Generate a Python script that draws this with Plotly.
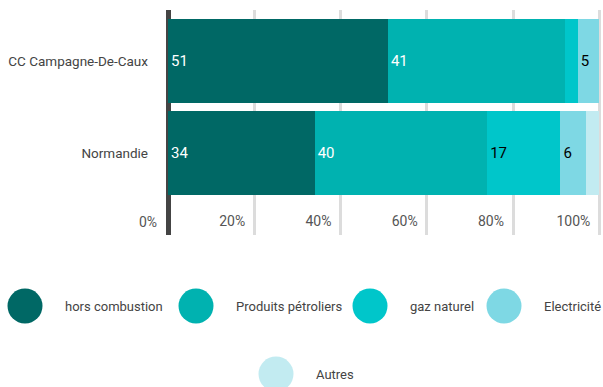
import plotly.graph_objects as go

# Energy consumption shares by source (%)
categories = ["Normandie", "CC Campagne-De-Caux"]
series_names = ["hors combustion", "Produits pétroliers", "gaz naturel", "Electricité", "Autres"]
series_colors = ["#006865", "#00b2b0", "#00c6ca", "#7ed8e4", "#c2ebf1"]
label_colors = ["white", "white", "black", "black", "black"]
values = {
    "hors combustion": [34, 51],
    "Produits pétroliers": [40, 41],
    "gaz naturel": [17, 3],
    "Electricité": [6, 5],
    "Autres": [3, 0],
}
x_ticks = [20, 40, 60, 80, 100]

FONT = "Roboto, Lato, sans-serif"
W, H = 603, 387
ML, MR, MT, MB = 160, 0, 10, 152
PX_PER_UNIT = 4.3125

fig = go.Figure()
for name, color, lc in zip(series_names, series_colors, label_colors):
    vals = values[name]
    fig.add_trace(go.Bar(
        y=categories, x=vals, name=name, orientation="h",
        marker=dict(color=color, line=dict(width=0)),
        text=[str(v) if v >= 5 else "" for v in vals],
        textposition="inside", insidetextanchor="start",
        textfont=dict(family=FONT, size=15, color=lc),
        hoverinfo="skip", showlegend=False,
    ))

plot_w = W - ML - MR
x0 = -(168 - ML) / PX_PER_UNIT
x1 = x0 + plot_w / PX_PER_UNIT

fig.update_layout(
    width=W, height=H,
    margin=dict(l=ML, r=MR, t=MT, b=MB, pad=0),
    barmode="stack", bargap=0.087,
    plot_bgcolor="white", paper_bgcolor="white",
    font=dict(family=FONT, size=14, color="#444"),
    xaxis=dict(
        range=[x0, x1], tickvals=x_ticks, ticktext=[f"{t}%" for t in x_ticks],
        showgrid=True, gridcolor="#dcdcdc", gridwidth=3,
        zeroline=True, zerolinecolor="#444", zerolinewidth=5,
        ticklabelposition="inside left", ticks="", ticklabelshift=-9,
        tickfont=dict(family=FONT, size=14, color="#555"),
        automargin=False, fixedrange=True,
    ),
    yaxis=dict(
        type="category", categoryorder="array", categoryarray=categories,
        range=[-0.891, 1.554], showgrid=False, zeroline=False, ticks="",
        ticklabelstandoff=11,
        tickfont=dict(family=FONT, size=13.5, color="#444"),
        automargin=False, fixedrange=True,
    ),
)

# "0%" sits left of the zero line, outside the plotting area
fig.add_annotation(
    text="0%", xref="x", yref="paper", x=0, y=0.06,
    xanchor="right", yanchor="middle", xshift=-9, showarrow=False,
    font=dict(family=FONT, size=14, color="#555"),
)

# Custom legend with large round swatches
legend_rows = [
    [(25, 306), (196, 306), (370, 306), (504, 306)],
    [(276, 374)],
]
legend_pos = [p for row in legend_rows for p in row]
R = 17.5


def to_paper_x(px):
    return (px - ML) / plot_w


def to_paper_y(py):
    return (H - MB - py) / (H - MT - MB)


for (cx, cy), name, color in zip(legend_pos, series_names, series_colors):
    fig.add_shape(
        type="circle", xref="paper", yref="paper",
        x0=to_paper_x(cx - R), x1=to_paper_x(cx + R),
        y0=to_paper_y(cy + R), y1=to_paper_y(cy - R),
        fillcolor=color, line=dict(width=0),
    )
    fig.add_annotation(
        text=name, xref="paper", yref="paper",
        x=to_paper_x(cx + 38), y=to_paper_y(cy),
        xanchor="left", yanchor="middle", showarrow=False,
        font=dict(family=FONT, size=13, color="#444"),
    )

fig.write_html("out.html")
